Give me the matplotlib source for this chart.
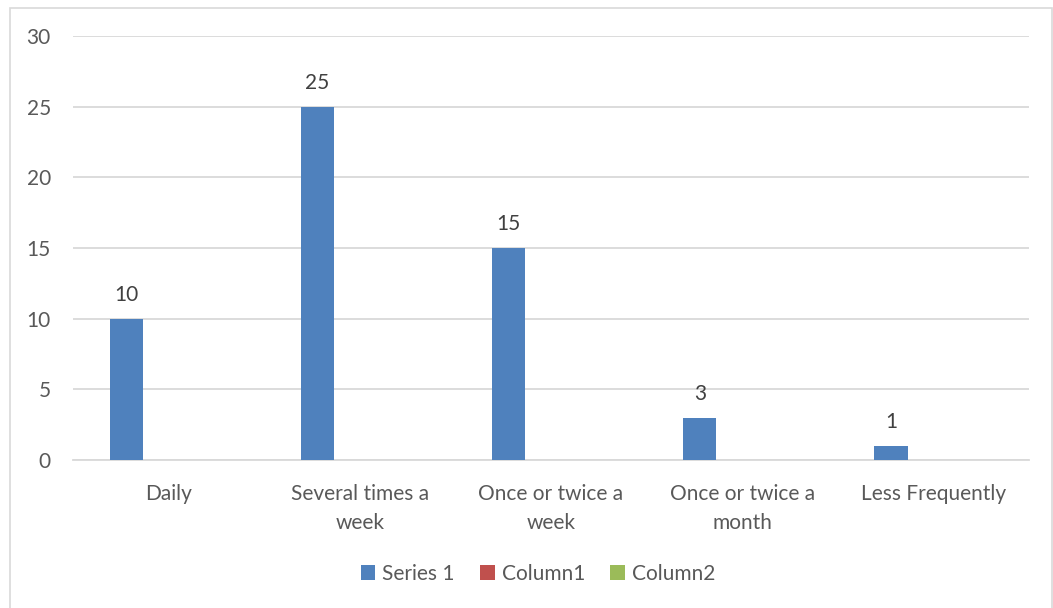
import numpy as np
import matplotlib
matplotlib.use("Agg")
import matplotlib.pyplot as plt
from matplotlib.patches import Rectangle

plt.rcParams['font.family'] = ['Lato', 'DejaVu Sans']

# datos
categorias = ['Daily', 'Several times a\nweek', 'Once or twice a\nweek',
              'Once or twice a\nmonth', 'Less Frequently']
serie1 = [10, 25, 15, 3, 1]
columna1 = [0, 0, 0, 0, 0]
columna2 = [0, 0, 0, 0, 0]
series = [('Series 1', serie1, '#4F81BD'),
          ('Column1', columna1, '#C0504D'),
          ('Column2', columna2, '#9BBB59')]
yticks = [0, 5, 10, 15, 20, 25, 30]

TXT = '#595959'
GRID = '#D9D9D9'
FS = 15

W, H = 1053, 608
fig = plt.figure(figsize=(W / 100, H / 100), dpi=100)
ax = fig.add_axes([73 / W, 1 - 460 / H, (1029 - 73) / W, (460 - 36) / H])

# borde del gráfico
fig.patches.append(Rectangle((9.5 / W, -0.05), (1052 - 9.5) / W, 1 - 7.5 / H + 0.05,
                             transform=fig.transFigure, fill=False,
                             edgecolor=GRID, linewidth=1.2))

x = np.arange(len(categorias))
bw = 0.1745
paso = 0.2217
for k, (nombre, vals, color) in enumerate(series):
    pos = x + (k - 1) * paso
    bars = ax.bar(pos, vals, width=bw, color=color, label=nombre, linewidth=0, zorder=3)
    if k == 0:
        for b, v in zip(bars, vals):
            ax.annotate(str(v), (b.get_x() + b.get_width() / 2, v),
                        xytext=(0, 13), textcoords='offset points',
                        ha='center', va='baseline', fontsize=FS, color='#404040')

ax.set_xlim(-0.5, len(categorias) - 0.5)
ax.set_ylim(0, 30)
ax.set_yticks(yticks)
ax.set_xticks(x)
ax.set_xticklabels(categorias, fontsize=FS, color=TXT, linespacing=1.6)
ax.tick_params(axis='y', length=0, pad=16, labelsize=FS, labelcolor=TXT)
ax.tick_params(axis='x', length=0, pad=17)
ax.yaxis.grid(True, color=GRID, linewidth=1.3)
ax.set_axisbelow(True)
for s in ['top', 'right', 'left']:
    ax.spines[s].set_visible(False)
ax.spines['bottom'].set_color(GRID)
ax.spines['bottom'].set_linewidth(1.3)

fig.legend(loc='center', bbox_to_anchor=(538 / W, 1 - 574 / H), ncol=3,
           frameon=False, fontsize=FS, labelcolor=TXT, handlelength=0.7,
           handleheight=0.7, handletextpad=0.35, columnspacing=1.2)

fig.savefig('out.png', dpi=100, facecolor='white')
